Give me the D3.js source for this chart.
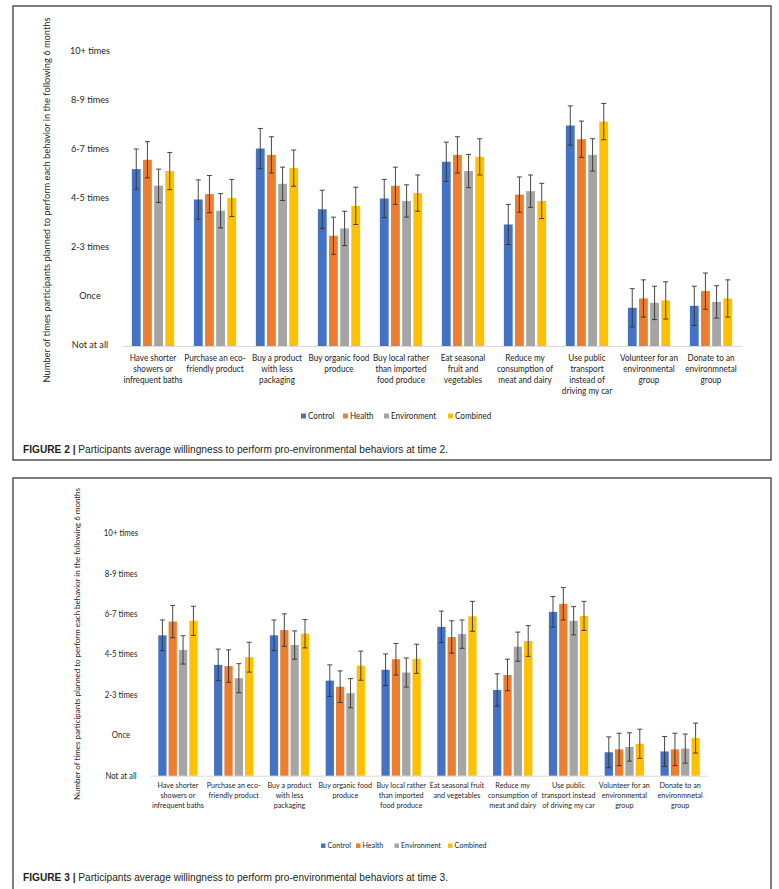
<!DOCTYPE html>
<html><head><meta charset="utf-8">
<script src="https://cdn.jsdelivr.net/npm/d3@7"></script>
<style>body{margin:0;background:#fff} svg{display:block}</style>
</head><body>
<svg id="chart" width="779" height="889"></svg>
<script>
// ---------------- DATA ----------------
const seriesNames = ["Control", "Health", "Environment", "Combined"];
const seriesColors = ["#4472C4", "#ED7D31", "#A5A5A5", "#FFC000"];
const frequencyTicks = ["Not at all", "Once", "2-3 times", "4-5 times", "6-7 times", "8-9 times", "10+ times"];
const yAxisTitle = "Number of times participants planned to perform each behavior in the following 6 months";

const categoriesTime2 = [
  ["Have shorter", "showers or", "infrequent baths"],
  ["Purchase an eco-", "friendly product"],
  ["Buy a product", "with less", "packaging"],
  ["Buy organic food", "produce"],
  ["Buy local rather", "than imported", "food produce"],
  ["Eat seasonal", "fruit and", "vegetables"],
  ["Reduce my", "consumption of", "meat and dairy"],
  ["Use public", "transport", "instead of", "driving my car"],
  ["Volunteer for an", "environmental", "group"],
  ["Donate to an", "environmnetal", "group"]
];
const categoriesTime3 = [
  ["Have shorter", "showers or", "infrequent baths"],
  ["Purchase an eco-", "friendly product"],
  ["Buy a product", "with less", "packaging"],
  ["Buy organic food", "produce"],
  ["Buy local rather", "than imported", "food produce"],
  ["Eat seasonal fruit", "and vegetables"],
  ["Reduce my", "consumption of", "meat and dairy"],
  ["Use public", "transport instead", "of driving my car"],
  ["Volunteer for an", "environmental", "group"],
  ["Donate to an", "environmnetal", "group"]
];

// Figure 2 (time 2): mean on 0 (Not at all) .. 6 (10+ times) scale
const controlT2     = [3.61, 2.99, 4.03, 2.79, 3.01, 3.76, 2.48, 4.50, 0.78, 0.82];
const healthT2      = [3.80, 3.10, 3.90, 2.25, 3.27, 3.90, 3.09, 4.22, 0.97, 1.12];
const environmentT2 = [3.27, 2.76, 3.31, 2.40, 2.96, 3.57, 3.16, 3.90, 0.88, 0.90];
const combinedT2    = [3.57, 3.02, 3.63, 2.86, 3.12, 3.86, 2.96, 4.58, 0.93, 0.97];
const controlErrT2     = [0.41, 0.40, 0.41, 0.39, 0.39, 0.40, 0.41, 0.40, 0.39, 0.40];
const healthErrT2      = [0.37, 0.38, 0.37, 0.38, 0.38, 0.37, 0.36, 0.37, 0.38, 0.37];
const environmentErrT2 = [0.34, 0.35, 0.34, 0.35, 0.33, 0.34, 0.33, 0.33, 0.34, 0.33];
const combinedErrT2    = [0.38, 0.38, 0.37, 0.38, 0.37, 0.37, 0.36, 0.37, 0.38, 0.38];

// Figure 3 (time 3)
const controlT3     = [3.47, 2.74, 3.47, 2.35, 2.62, 3.68, 2.12, 4.05, 0.58, 0.60];
const healthT3      = [3.81, 2.71, 3.60, 2.20, 2.88, 3.43, 2.49, 4.25, 0.65, 0.65];
const environmentT3 = [3.11, 2.41, 3.23, 2.04, 2.55, 3.50, 3.19, 3.83, 0.71, 0.67];
const combinedT3    = [3.83, 2.93, 3.51, 2.72, 2.89, 3.94, 3.33, 3.95, 0.79, 0.93];
const controlErrT3     = [0.38, 0.39, 0.38, 0.39, 0.39, 0.39, 0.40, 0.38, 0.38, 0.37];
const healthErrT3      = [0.40, 0.40, 0.40, 0.39, 0.39, 0.40, 0.39, 0.40, 0.40, 0.40];
const environmentErrT3 = [0.35, 0.36, 0.35, 0.36, 0.36, 0.35, 0.36, 0.35, 0.35, 0.36];
const combinedErrT3    = [0.36, 0.37, 0.35, 0.36, 0.36, 0.37, 0.38, 0.36, 0.36, 0.37];

const captionT2 = ["FIGURE 2 |", " Participants average willingness to perform pro-environmental behaviors at time 2."];
const captionT3 = ["FIGURE 3 |", " Participants average willingness to perform pro-environmental behaviors at time 3."];

// ---------------- DRAW ----------------
const svg = d3.select("#chart");
svg.append("rect").attr("width", 779).attr("height", 889).attr("fill", "#fff");

const chartFont = "Lato, 'Open Sans', sans-serif";
const captionFont = "'Liberation Sans', Arial, sans-serif";

// Calibri is narrower than Lato: condense glyphs horizontally
function condense(sel, factor) {
  sel.each(function () {
    const w = this.getComputedTextLength();
    if (w > 0) d3.select(this).attr("textLength", w * factor).attr("lengthAdjust", "spacingAndGlyphs");
  });
}

function drawFigure(cfg) {
  const g = svg.append("g");
  g.append("rect")
    .attr("x", cfg.panel[0]).attr("y", cfg.panel[1])
    .attr("width", cfg.panel[2]).attr("height", cfg.panel[3])
    .attr("fill", "none").attr("stroke", "#3a3a3a").attr("stroke-width", 1.3);

  const idx = d3.range(cfg.categories.length);
  const x0 = d3.scaleBand().domain(idx).range([cfg.left, cfg.right])
    .paddingInner(cfg.groupPad).paddingOuter(cfg.groupPad / 2);
  const x1 = d3.scaleBand().domain(seriesNames).range([0, x0.bandwidth()])
    .paddingInner(cfg.barPad).paddingOuter(0);
  const y = d3.scaleLinear().domain([0, 6]).range([cfg.base, cfg.top]);

  // y tick labels (centered, no line)
  const yAxis = g.append("g").attr("transform", `translate(${cfg.yLabelX},0)`)
    .call(d3.axisLeft(y).tickValues(d3.range(7)).tickFormat(i => frequencyTicks[i]).tickSize(0).tickPadding(0));
  yAxis.select(".domain").remove();
  const yt = yAxis.selectAll(".tick text")
    .attr("x", 0).attr("text-anchor", "middle")
    .attr("dy", cfg.yLabelDy)
    .style("font-family", chartFont).style("font-size", cfg.yLabelSize + "px").attr("fill", "#262626");
  condense(yt, cfg.condense);

  // x axis
  const xAxis = g.append("g").attr("transform", `translate(0,${cfg.base})`)
    .call(d3.axisBottom(x0).tickSize(0).tickFormat(""));
  xAxis.select(".domain").attr("stroke", "#d9d9d9").attr("stroke-width", 1);
  xAxis.selectAll(".tick").each(function (i) {
    const t = d3.select(this).append("text")
      .attr("text-anchor", "middle").attr("fill", "#262626")
      .style("font-family", chartFont).style("font-size", cfg.xLabelSize + "px");
    cfg.categories[i].forEach((line, j) => {
      t.append("tspan").attr("x", 0).attr("y", cfg.xLabelOffset + j * cfg.lineH).text(line);
    });
  });
  condense(xAxis.selectAll(".tick tspan"), cfg.condense);

  // bars
  const rows = idx.map(i => seriesNames.map((name, k) => ({
    i, name, color: seriesColors[k],
    v: cfg.series[k].values[i], e: cfg.series[k].errors[i]
  })));
  const groups = g.append("g").selectAll("g").data(rows).join("g")
    .attr("transform", (d, i) => `translate(${x0(i)},0)`);
  groups.selectAll("rect").data(d => d).join("rect")
    .attr("x", d => x1(d.name)).attr("width", x1.bandwidth())
    .attr("y", d => y(d.v)).attr("height", d => y(0) - y(d.v))
    .attr("fill", d => d.color);

  // error bars
  const eb = groups.selectAll("g.err").data(d => d).join("g").attr("class", "err")
    .attr("transform", d => `translate(${x1(d.name) + x1.bandwidth() / 2},0)`)
    .attr("stroke", "#333").attr("stroke-width", 0.9);
  eb.append("line").attr("x1", 0).attr("x2", 0).attr("y1", d => y(d.v + d.e)).attr("y2", d => y(d.v - d.e));
  eb.append("line").attr("x1", -2.5).attr("x2", 2.5).attr("y1", d => y(d.v + d.e)).attr("y2", d => y(d.v + d.e));
  eb.append("line").attr("x1", -2.5).attr("x2", 2.5).attr("y1", d => y(d.v - d.e)).attr("y2", d => y(d.v - d.e));

  // y axis title
  g.append("text")
    .attr("transform", `translate(${cfg.titleX},${cfg.titleY}) rotate(-90)`)
    .attr("text-anchor", "middle").attr("dy", "0.35em")
    .attr("textLength", cfg.titleLen).attr("lengthAdjust", "spacingAndGlyphs")
    .style("font-family", chartFont).style("font-size", cfg.titleSize + "px").attr("fill", "#262626")
    .text(yAxisTitle);

  // legend
  const lg = g.append("g");
  seriesNames.forEach((name, k) => {
    const lx = cfg.legendX[k];
    lg.append("rect").attr("x", lx).attr("y", cfg.legendY - cfg.legendSq / 2)
      .attr("width", cfg.legendSq).attr("height", cfg.legendSq).attr("fill", seriesColors[k]);
    const lt = lg.append("text").attr("x", lx + cfg.legendSq + 2).attr("y", cfg.legendY).attr("dy", "0.35em")
      .style("font-family", chartFont).style("font-size", cfg.legendSize + "px").attr("fill", "#262626")
      .text(name);
    condense(lt, 0.95);
  });

  // caption
  const cap = g.append("text").attr("x", 23).attr("y", cfg.captionY).attr("dy", "0.35em")
    .attr("textLength", 425).attr("lengthAdjust", "spacingAndGlyphs")
    .style("font-family", captionFont).style("font-size", "10.5px").attr("fill", "#231f20");
  cap.append("tspan").attr("font-weight", "bold").text(cfg.caption[0]);
  cap.append("tspan").text(cfg.caption[1]);
}

drawFigure({
  panel: [13, 6, 758, 454],
  categories: categoriesTime2,
  series: [
    { values: controlT2, errors: controlErrT2 },
    { values: healthT2, errors: healthErrT2 },
    { values: environmentT2, errors: environmentErrT2 },
    { values: combinedT2, errors: combinedErrT2 }
  ],
  left: 122, right: 742, base: 346, top: 52,
  groupPad: 0.318, barPad: 0.21, condense: 0.91,
  yLabelX: 90, yLabelSize: 10, yLabelDy: "0.1em",
  xLabelSize: 9, xLabelOffset: 14.5, lineH: 11,
  titleX: 47, titleY: 200, titleLen: 365, titleSize: 9.5,
  legendY: 416, legendX: [301, 343, 384, 448], legendSq: 5, legendSize: 8.5,
  captionY: 449, caption: captionT2
});

drawFigure({
  panel: [13, 478, 758, 420],
  categories: categoriesTime3,
  series: [
    { values: controlT3, errors: controlErrT3 },
    { values: healthT3, errors: healthErrT3 },
    { values: environmentT3, errors: environmentErrT3 },
    { values: combinedT3, errors: combinedErrT3 }
  ],
  left: 150, right: 708, base: 775.7, top: 533,
  groupPad: 0.296, barPad: 0.2, condense: 0.9,
  yLabelX: 121, yLabelSize: 8.7, yLabelDy: "0.3em",
  xLabelSize: 8, xLabelOffset: 12.7, lineH: 9.7,
  titleX: 77, titleY: 644, titleLen: 312, titleSize: 8,
  legendY: 845.7, legendX: [321, 356, 394.5, 448], legendSq: 4.5, legendSize: 7.5,
  captionY: 877.3, caption: captionT3
});
</script>
</body></html>
